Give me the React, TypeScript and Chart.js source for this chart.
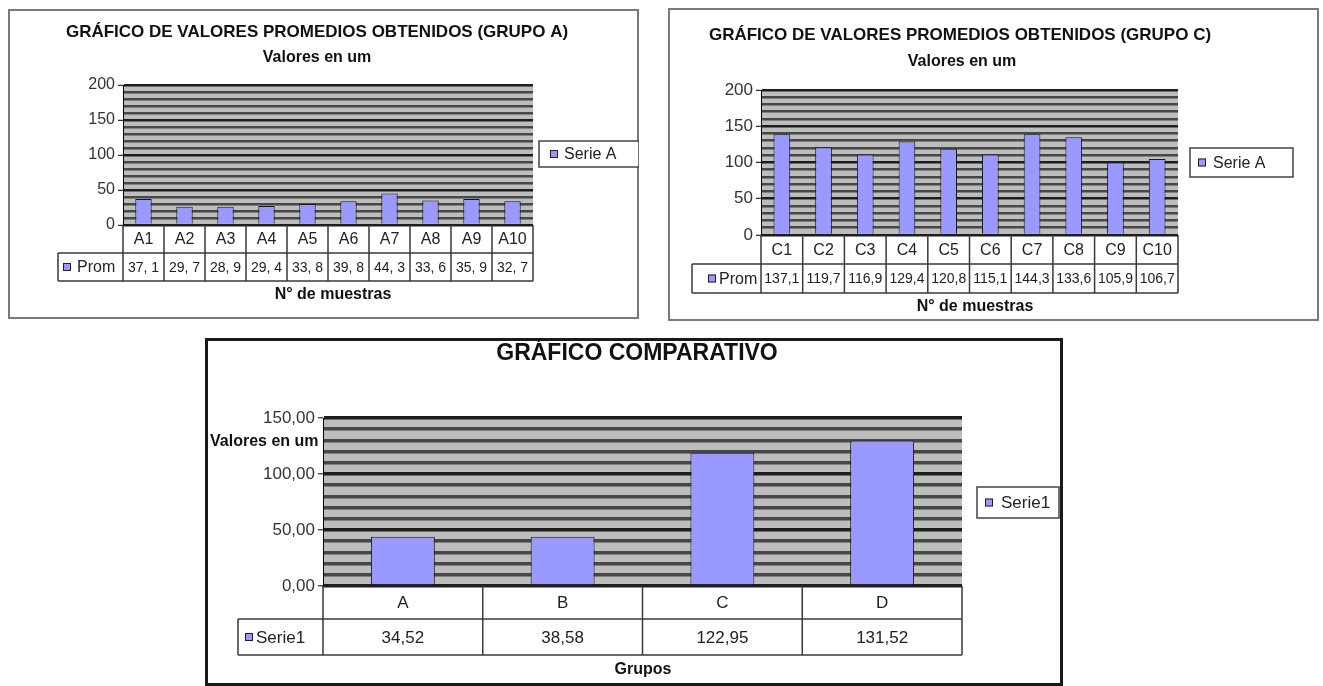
import React, { useEffect, useRef } from 'react';
import { Chart, registerables } from 'chart.js';

Chart.register(...registerables);

const FONT = '"Liberation Sans", Arial, sans-serif';

// ---- Grupo A ----
const catsA = ['A1', 'A2', 'A3', 'A4', 'A5', 'A6', 'A7', 'A8', 'A9', 'A10'];
const barsA = [37, 26, 26, 27, 30, 34, 45, 35, 37, 34];
const promA = ['37, 1', '29, 7', '28, 9', '29, 4', '33, 8', '39, 8', '44, 3', '33, 6', '35, 9', '32, 7'];

// ---- Grupo C ----
const catsC = ['C1', 'C2', 'C3', 'C4', 'C5', 'C6', 'C7', 'C8', 'C9', 'C10'];
const barsC = [139, 121, 111, 129, 119, 111, 139, 135, 100, 105];
const promC = ['137,1', '119,7', '116,9', '129,4', '120,8', '115,1', '144,3', '133,6', '105,9', '106,7'];

// ---- Comparativo ----
const groups = ['A', 'B', 'C', 'D'];
const barsComp = [44, 44, 119, 130];
const serieComp = ['34,52', '38,58', '122,95', '131,52'];

type TextSpec = { text: string; x: number; y: number; size: number; maxW: number; align?: CanvasTextAlign; bold?: boolean };

type Spec = {
  left: number; top: number; width: number; height: number;
  frameColor: string; frameWidth: number;
  cats: string[]; values: number[]; tableVals: string[];
  rowName: string; legendName: string;
  yMax: number; yStep: number; yMajor: number; yFmt: (v: number) => string; yFont: number; yWidth: number;
  gridW: number;
  area: { left: number; right: number; top: number; bottom: number };
  row1: number; row2: number; tableLeft: number; catFont: number; valFont: number;
  texts: TextSpec[];
  legend: { x: number; y: number; w: number; h: number; sq: number; tx: number; font: number };
  tSq: number; tTx: number; tFont: number;
};

function square(ctx: CanvasRenderingContext2D, x: number, cy: number) {
  ctx.fillStyle = '#9999ff';
  ctx.fillRect(x, cy - 4, 8, 8);
  ctx.strokeStyle = '#222';
  ctx.lineWidth = 1;
  ctx.strokeRect(x + 0.5, cy - 3.5, 7, 7);
}

function makePlugin(s: Spec) {
  return {
    id: 'excelDeco',
    beforeDraw(chart: any) {
      const { ctx, chartArea: a, width, height } = chart;
      ctx.save();
      ctx.fillStyle = '#ffffff';
      ctx.fillRect(0, 0, width, height);
      ctx.fillStyle = '#bdbdbd';
      ctx.fillRect(a.left, a.top, a.right - a.left, a.bottom - a.top);
      ctx.restore();
    },
    afterDraw(chart: any) {
      const { ctx, chartArea: a, width, height } = chart;
      const xs = chart.scales.x;
      ctx.save();
      // frame
      ctx.strokeStyle = s.frameColor;
      ctx.lineWidth = s.frameWidth;
      ctx.strokeRect(s.frameWidth / 2, s.frameWidth / 2, width - s.frameWidth, height - s.frameWidth);

      // texts
      ctx.fillStyle = '#111';
      ctx.textBaseline = 'middle';
      for (const t of s.texts) {
        ctx.font = `${t.bold === false ? '' : 'bold '}${t.size}px ${FONT}`;
        ctx.textAlign = t.align || 'center';
        ctx.fillText(t.text, t.x, t.y, t.maxW);
      }

      // legend
      const L = s.legend;
      ctx.fillStyle = '#fff';
      ctx.fillRect(L.x, L.y, L.w, L.h);
      ctx.strokeStyle = '#444';
      ctx.lineWidth = 1.5;
      ctx.strokeRect(L.x, L.y, L.w, L.h);
      square(ctx, L.sq, L.y + L.h / 2);
      ctx.fillStyle = '#222';
      ctx.font = `${L.font}px ${FONT}`;
      ctx.textAlign = 'left';
      ctx.fillText(s.legendName, L.tx, L.y + L.h / 2 + 1);

      // data table
      const n = s.cats.length;
      const cw = (a.right - a.left) / n;
      const r1t = a.bottom, r1b = a.bottom + s.row1, r2b = r1b + s.row2;
      ctx.strokeStyle = '#3a3a3a';
      ctx.lineWidth = 1.5;
      ctx.beginPath();
      for (let i = 0; i <= n; i++) {
        const bx = a.left + i * cw;
        ctx.moveTo(bx, r1t);
        ctx.lineTo(bx, r2b);
      }
      ctx.moveTo(s.tableLeft, r1b); ctx.lineTo(a.right, r1b);
      ctx.moveTo(s.tableLeft, r2b); ctx.lineTo(a.right, r2b);
      ctx.moveTo(s.tableLeft, r1b); ctx.lineTo(s.tableLeft, r2b);
      ctx.stroke();

      ctx.textAlign = 'center';
      ctx.fillStyle = '#222';
      for (let i = 0; i < n; i++) {
        const cx = xs.getPixelForValue(i);
        ctx.font = `${s.catFont}px ${FONT}`;
        ctx.fillText(s.cats[i], cx, (r1t + r1b) / 2 + 1, cw - 3);
        ctx.font = `${s.valFont}px ${FONT}`;
        ctx.fillText(s.tableVals[i], cx, (r1b + r2b) / 2 + 1, cw - 3);
      }
      square(ctx, s.tSq, (r1b + r2b) / 2);
      ctx.fillStyle = '#222';
      ctx.font = `${s.tFont}px ${FONT}`;
      ctx.textAlign = 'left';
      ctx.fillText(s.rowName, s.tTx, (r1b + r2b) / 2 + 1);
      ctx.restore();
    },
  };
}

function ExcelChart({ spec }: { spec: Spec }) {
  const ref = useRef<HTMLCanvasElement>(null);
  useEffect(() => {
    if (!ref.current) return;
    const s = spec;
    const chart = new Chart(ref.current, {
      type: 'bar',
      data: {
        labels: s.cats,
        datasets: [{
          data: s.values,
          backgroundColor: '#9999ff',
          borderColor: '#1a1a1a',
          borderWidth: 1,
          barPercentage: 0.4,
          categoryPercentage: 1,
        }],
      },
      options: {
        responsive: false,
        animation: false,
        layout: {
          padding: {
            left: s.area.left - s.yWidth,
            right: s.width - s.area.right,
            top: s.area.top,
            bottom: s.height - s.area.bottom,
          },
        },
        plugins: { legend: { display: false }, tooltip: { enabled: false }, title: { display: false } },
        scales: {
          x: { display: false, offset: true },
          y: {
            min: 0,
            max: s.yMax,
            afterFit: (sc: any) => { sc.width = s.yWidth; },
            ticks: {
              stepSize: s.yStep,
              autoSkip: false,
              color: '#333',
              padding: 3,
              font: { size: s.yFont, family: FONT },
              callback: (v: any) => (Number(v) % s.yMajor === 0 ? s.yFmt(Number(v)) : ''),
            },
            grid: {
              color: (c: any) => (c.tick && c.tick.value % s.yMajor === 0 ? '#1e1e1e' : '#474747'),
              lineWidth: s.gridW,
              tickLength: 5,
              tickWidth: 1,
              tickColor: (c: any) => (c.tick && c.tick.value % s.yMajor === 0 ? '#000' : 'rgba(0,0,0,0)'),
            },
            border: { display: true, color: '#000', width: 1 },
          },
        },
      },
      plugins: [makePlugin(s)],
    } as any);
    return () => chart.destroy();
  }, [spec]);
  return (
    <div style={{ position: 'absolute', left: spec.left, top: spec.top, width: spec.width, height: spec.height }}>
      <canvas ref={ref} width={spec.width} height={spec.height} style={{ display: 'block', width: spec.width, height: spec.height }} />
    </div>
  );
}

const specA: Spec = {
  left: 8, top: 9, width: 631, height: 310, frameColor: '#7a7a7a', frameWidth: 2,
  cats: catsA, values: barsA, tableVals: promA, rowName: 'Prom', legendName: 'Serie A',
  yMax: 200, yStep: 10, yMajor: 50, yFmt: (v) => String(v), yFont: 16, yWidth: 50, gridW: 2.6,
  area: { left: 115, right: 525, top: 76, bottom: 216 },
  row1: 28, row2: 28, tableLeft: 50, catFont: 16, valFont: 14,
  texts: [
    { text: 'GRÁFICO DE VALORES PROMEDIOS OBTENIDOS (GRUPO A)', x: 309, y: 23, size: 17, maxW: 509 },
    { text: 'Valores en um', x: 309, y: 49, size: 16, maxW: 114 },
    { text: 'N° de muestras', x: 325, y: 286, size: 16, maxW: 124 },
  ],
  legend: { x: 531, y: 132, w: 100, h: 26, sq: 542, tx: 556, font: 16 },
  tSq: 55, tTx: 69, tFont: 16,
};

const specC: Spec = {
  left: 668, top: 8, width: 651, height: 313, frameColor: '#7a7a7a', frameWidth: 2,
  cats: catsC, values: barsC, tableVals: promC, rowName: 'Prom', legendName: 'Serie A',
  yMax: 200, yStep: 10, yMajor: 50, yFmt: (v) => String(v), yFont: 17, yWidth: 50, gridW: 2.6,
  area: { left: 93, right: 510, top: 82, bottom: 227 },
  row1: 29, row2: 29, tableLeft: 24, catFont: 16, valFont: 14,
  texts: [
    { text: 'GRÁFICO DE VALORES PROMEDIOS OBTENIDOS (GRUPO C)', x: 292, y: 27, size: 17, maxW: 524 },
    { text: 'Valores en um', x: 294, y: 54, size: 16, maxW: 119 },
    { text: 'N° de muestras', x: 307, y: 299, size: 16, maxW: 128 },
  ],
  legend: { x: 522, y: 140, w: 103, h: 29, sq: 530, tx: 545, font: 16 },
  tSq: 40, tTx: 51, tFont: 16,
};

const specComp: Spec = {
  left: 205, top: 338, width: 858, height: 348, frameColor: '#1a1a1a', frameWidth: 3,
  cats: groups, values: barsComp, tableVals: serieComp, rowName: 'Serie1', legendName: 'Serie1',
  yMax: 150, yStep: 10, yMajor: 50, yFmt: (v) => v.toFixed(2).replace('.', ','), yFont: 17, yWidth: 70, gridW: 3.5,
  area: { left: 118, right: 757, top: 80, bottom: 248 },
  row1: 33, row2: 36, tableLeft: 33, catFont: 17, valFont: 17,
  texts: [
    { text: 'GRÁFICO COMPARATIVO', x: 432, y: 16, size: 23, maxW: 285 },
    { text: 'Valores en um', x: 5, y: 104, size: 16, maxW: 128, align: 'left' },
    { text: 'Grupos', x: 438, y: 332, size: 16, maxW: 70 },
  ],
  legend: { x: 772, y: 149, w: 82, h: 31, sq: 780, tx: 796, font: 17 },
  tSq: 40, tTx: 51, tFont: 17,
};

export default function App() {
  return (
    <div style={{ position: 'absolute', left: 0, top: 0, width: 1323, height: 686, overflow: 'hidden', background: '#fff' }}>
      <ExcelChart spec={specA} />
      <ExcelChart spec={specC} />
      <ExcelChart spec={specComp} />
    </div>
  );
}
